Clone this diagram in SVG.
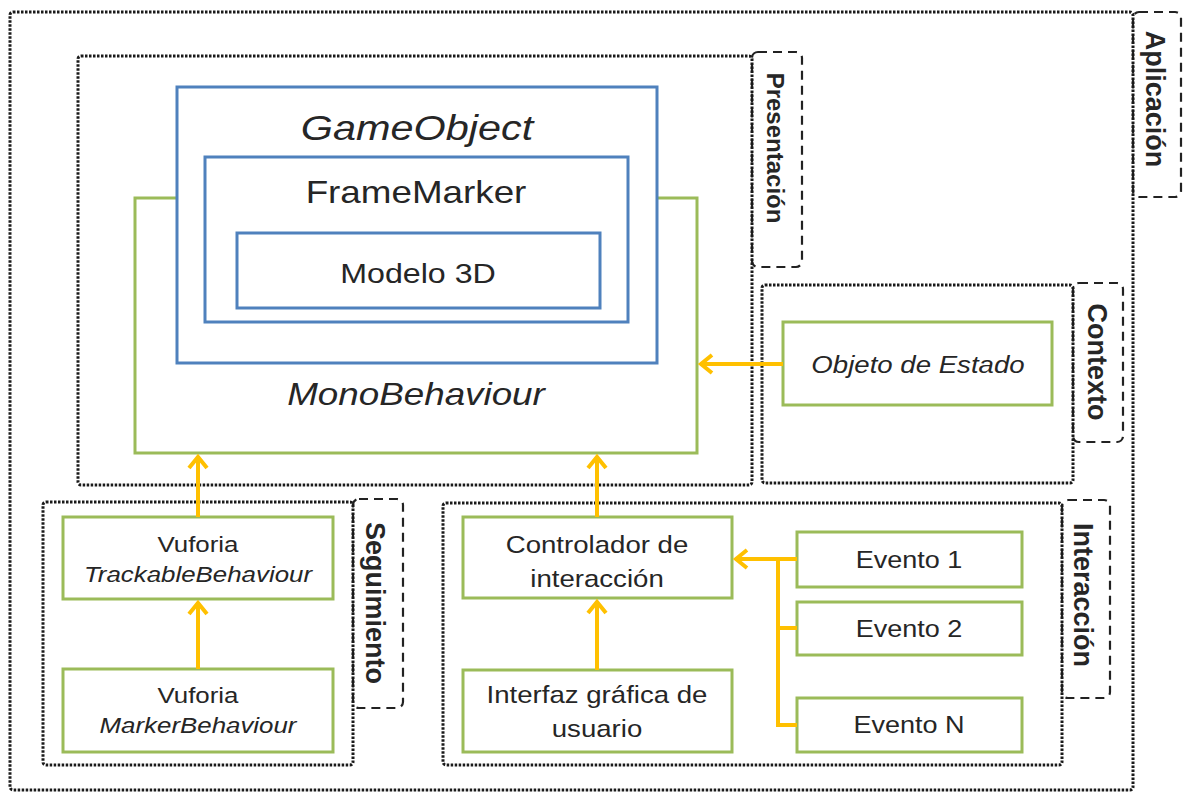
<svg xmlns="http://www.w3.org/2000/svg" width="1188" height="793" viewBox="0 0 1188 793">
<style>
.dot{fill:none;stroke:#1a1a1a;stroke-width:3;stroke-dasharray:2.5 1.5}
.dash{fill:none;stroke:#222;stroke-width:2.2;stroke-dasharray:9 6}
.green{fill:#fff;stroke:#9BBB59;stroke-width:3}
.blue{fill:#fff;stroke:#4F81BD;stroke-width:3}
.lbl{font-family:"Liberation Sans",Arial,sans-serif;fill:#262626;text-anchor:middle}
.side{font-weight:bold;font-size:27px}
.it{font-style:italic}
.conn{fill:none;stroke:#FFC000;stroke-width:4}
</style>
<defs>
<marker id="ah" markerUnits="userSpaceOnUse" markerWidth="30" markerHeight="30" viewBox="-15 -15 30 30" refX="0" refY="0" orient="auto" overflow="visible">
<path d="M-12,-9 L-1,0 L-12,9" fill="none" stroke="#FFC000" stroke-width="4"/>
</marker>
</defs>
<rect width="1188" height="793" fill="#fff"/>

<g id="aplicacion">
<rect class="dash" x="1133" y="12" width="48" height="185" rx="6"/>
<rect class="dot" x="10" y="12" width="1123" height="778" rx="3"/>
<text class="lbl side" transform="translate(1145.5,99) rotate(90)">Aplicación</text>
</g>

<g id="presentacion">
<rect class="dash" x="752" y="52" width="50" height="215" rx="6"/>
<rect class="dot" x="78" y="56" width="674" height="429" rx="3"/>
<text class="lbl side" style="font-size:24px" transform="translate(766.6,148) rotate(90)">Presentación</text>
</g>

<g id="contexto">
<rect class="dash" x="1073" y="283" width="50" height="159" rx="6"/>
<rect class="dot" x="762" y="285" width="311" height="198" rx="3"/>
<text class="lbl side" transform="translate(1087.5,362) rotate(90)">Contexto</text>
</g>

<g id="seguimiento">
<rect class="dash" x="353" y="499" width="50" height="209" rx="6"/>
<rect class="dot" x="43" y="502" width="310" height="263" rx="3"/>
<text class="lbl side" transform="translate(365.5,603) rotate(90)">Seguimiento</text>
</g>

<g id="interaccion">
<rect class="dash" x="1062" y="500" width="48" height="198" rx="6"/>
<rect class="dot" x="443" y="503" width="619" height="262" rx="3"/>
<text class="lbl side" transform="translate(1073.5,595) rotate(90)">Interacción</text>
</g>

<g id="monobehaviour">
<rect class="green" x="135" y="198" width="562" height="255"/>
<text class="lbl it" font-size="32" transform="translate(416,405) scale(1.15,1)">MonoBehaviour</text>
</g>

<g id="gameobject">
<rect class="blue" x="177" y="87" width="480" height="276"/>
<text class="lbl it" font-size="36" transform="translate(417,140) scale(1.15,1)">GameObject</text>
</g>

<g id="framemarker">
<rect class="blue" x="205" y="157" width="423" height="165"/>
<text class="lbl" font-size="32" transform="translate(416,203) scale(1.15,1)">FrameMarker</text>
</g>

<g id="modelo3d">
<rect class="blue" x="237" y="233" width="363" height="75"/>
<text class="lbl" font-size="28" transform="translate(418,283) scale(1.15,1)">Modelo 3D</text>
</g>

<g id="objeto-estado">
<rect class="green" x="783" y="322" width="269" height="83"/>
<text class="lbl it" font-size="24" transform="translate(918,373) scale(1.15,1)">Objeto de Estado</text>
</g>

<g id="trackable">
<rect class="green" x="63" y="517" width="270" height="82"/>
<text class="lbl" font-size="22.5" transform="translate(198,552) scale(1.15,1)">Vuforia</text>
<text class="lbl it" font-size="22.5" transform="translate(198,582) scale(1.15,1)">TrackableBehaviour</text>
</g>

<g id="marker">
<rect class="green" x="63" y="669" width="270" height="83"/>
<text class="lbl" font-size="22.5" transform="translate(198,703) scale(1.15,1)">Vuforia</text>
<text class="lbl it" font-size="22.5" transform="translate(198,733) scale(1.15,1)">MarkerBehaviour</text>
</g>

<g id="controlador">
<rect class="green" x="463" y="517" width="269" height="81"/>
<text class="lbl" font-size="24" transform="translate(597,553) scale(1.15,1)">Controlador de</text>
<text class="lbl" font-size="24" transform="translate(597,587) scale(1.15,1)">interacción</text>
</g>

<g id="interfaz">
<rect class="green" x="463" y="670" width="269" height="82"/>
<text class="lbl" font-size="24" transform="translate(597,703) scale(1.15,1)">Interfaz gráfica de</text>
<text class="lbl" font-size="24" transform="translate(597,737) scale(1.15,1)">usuario</text>
</g>

<g id="evento1">
<rect class="green" x="797" y="532" width="225" height="55"/>
<text class="lbl" font-size="23.5" transform="translate(909,568) scale(1.15,1)">Evento 1</text>
</g>

<g id="evento2">
<rect class="green" x="797" y="602" width="225" height="53"/>
<text class="lbl" font-size="23.5" transform="translate(909,637) scale(1.15,1)">Evento 2</text>
</g>

<g id="eventoN">
<rect class="green" x="797" y="698" width="225" height="54"/>
<text class="lbl" font-size="23.5" transform="translate(909,733) scale(1.15,1)">Evento N</text>
</g>

<g id="connectors">
<path class="conn" d="M198,517 L198,456" marker-end="url(#ah)"/>
<path class="conn" d="M198,669 L198,602" marker-end="url(#ah)"/>
<path class="conn" d="M597,517 L597,456" marker-end="url(#ah)"/>
<path class="conn" d="M597,670 L597,601" marker-end="url(#ah)"/>
<path class="conn" d="M783,364 L700,364" marker-end="url(#ah)"/>
<path class="conn" d="M797,559 L735,559" marker-end="url(#ah)"/>
<path class="conn" d="M797,725 L778,725 L778,559"/>
<path class="conn" d="M797,628 L778,628"/>
</g>
</svg>
